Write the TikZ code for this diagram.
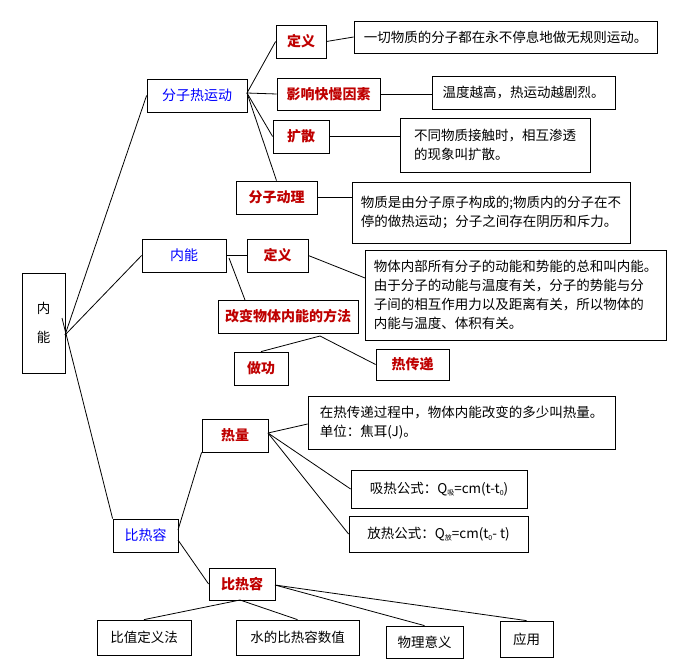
\documentclass[tikz,border=0pt]{standalone}
\usepackage{fontspec}
\setmainfont{Noto Sans CJK SC}
\begin{document}
\begin{tikzpicture}[x=1pt,y=-1pt,
  bx/.style={draw,line width=0.8pt,inner sep=0pt,font=\fontsize{13.5}{19}\selectfont},
  rd/.style={bx,text=red!75!black,font=\fontsize{14}{19}\selectfont\bfseries},
  bl/.style={bx,text=blue,font=\fontsize{14}{19}\selectfont},
  ln/.style={line width=0.8pt}]
\useasboundingbox[fill=white] (0,0) rectangle (679,670);
\newcommand{\B}[6][bx]{\node[#1,minimum width=#4-#2,minimum height=#5-#3] (#6) at ({(#2+#4)/2},{(#3+#5)/2})}
\B{22}{273}{65}{373}{root}[align=center]{内\\[10pt]能};
\B[bl]{147}{79}{247}{112}{fzr}{分子热运动};
\B[rd]{276}{25}{326}{58}{dy1}{定义};
\B{354}{21}{657}{53}{t1}{一切物质的分子都在永不停息地做无规则运动。};
\B[rd]{277}{78}{380}{110}{yx}{影响快慢因素};
\B{432}{76}{615}{109}{t2}{温度越高，热运动越剧烈。};
\B[rd]{273}{120}{329}{153}{ks}{扩散};
\B{400}{118}{590}{172}{t3}[align=left]{不同物质接触时，相互渗透\\的现象叫扩散。};
\B[rd]{236}{181}{317}{214}{dl}{分子动理};
\B{352}{182}{630}{243}{t4}[align=left]{物质是由分子原子构成的;物质内的分子在不\\停的做热运动；分子之间存在阴历和斥力。};
\B[bl]{142}{239}{226}{272}{nn}{内能};
\B[rd]{247}{239}{308}{272}{dy2}{定义};
\B{365}{250}{666}{340}{t5}[align=left]{物体内部所有分子的动能和势能的总和叫内能。\\由于分子的动能与温度有关，分子的势能与分\\子间的相互作用力以及距离有关，所以物体的\\内能与温度、体积有关。};
\B[rd]{218}{300}{358}{333}{gb}{改变物体内能的方法};
\B[rd]{234}{352}{288}{385}{zg}{做功};
\B[rd]{376}{349}{449}{380}{rcd}{热传递};
\B[rd]{202}{419}{268}{452}{rl}{热量};
\B{308}{396}{615}{449}{t6}[align=left]{在热传递过程中，物体内能改变的多少叫热量。\\单位：焦耳(J)。};
\B{351}{470}{527}{508}{xr}{吸热公式：Q\raisebox{-2pt}{\scriptsize 吸}=cm(t-t\raisebox{-2pt}{\scriptsize 0})};
\B{349}{516}{528}{552}{fr}{放热公式：Q\raisebox{-2pt}{\scriptsize 放}=cm(t\raisebox{-2pt}{\scriptsize 0}- t)};
\B[bl]{113}{519}{178}{552}{brr}{比热容};
\B[rd]{209}{568}{275}{600}{brr2}{比热容};
\B{97}{620}{191}{655}{c1}{比值定义法};
\B{236}{620}{359}{655}{c2}{水的比热容数值};
\B{386}{626}{463}{658}{c3}{物理意义};
\B{500}{621}{553}{657}{c4}{应用};
\coordinate (r0) at (65,335);
\draw[ln] (r0) -- (fzr.west);
\draw[ln] (r0) -- (nn.west);
\draw[ln] (62,318) -- (brr.north west);
\coordinate (f0) at (247,93);
\draw[ln] (f0) -- (dy1.west);
\draw[ln] (f0) -- (yx.west);
\draw[ln] (f0) -- (ks.west);
\draw[ln] (f0) -- (dl.north);
\draw[ln] (dy1.east) -- (t1.west);
\draw[ln] (yx.east) -- (t2.west|-yx.east);
\draw[ln] (ks.east) -- (t3.west|-ks.east);
\draw[ln] (dl.east) -- (t4.west|-dl.east);
\draw[ln] (nn.east) -- (dy2.west);
\draw[ln] (229,258) -- (245,300);
\draw[ln] (dy2.east) -- (365,278);
\coordinate (g0) at (320,336);
\draw[ln] (g0) -- (zg.north);
\draw[ln] (g0) -- (rcd.west);
\draw[ln] (178,530) -- (rl.south west);
\draw[ln] (178,540) -- (brr2.west);
\coordinate (h0) at (268,433);
\draw[ln] (h0) -- (t6.west|-0,424);
\draw[ln] (h0) -- (xr.west);
\draw[ln] (h0) -- (fr.west);
\coordinate (b0) at (275,585);
\draw[ln] (b0) -- (c4.north);
\draw[ln] (b0) -- (c3.north);
\draw[ln] (240,600) -- (c1.north);
\draw[ln] (240,600) -- (c2.north);
\end{tikzpicture}
\end{document}
